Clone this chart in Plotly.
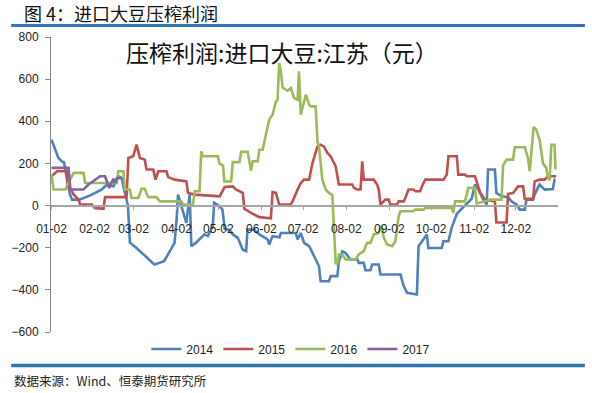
import plotly.graph_objects as go

# Day offsets counted from 01-02, values in 元
profit_2014 = [(0,313),(5,226),(7.5,210),(9,205),(13,60),(14.7,28),(20,28),(27.5,47),(36,76),(40,100),
    (44.5,91),(47,123),(49,137),(50.5,130),(51.7,91),(55,0),(56.4,-176),(61,-200),(74,-280),(81,-264),
    (88.5,-177),(90,-66),(91,52),(94.6,-27),(97,-82),(99.4,52),(100.6,-193),(104,-176),(110,-137),
    (112.5,-145),(116,-98),(117,13),(121,-3),(123,-20),(124.5,-110),(128,-115),(130.5,-137),(134,-153),
    (137.6,-210),(140,-216),(141,-114),(145.6,-114),(149.5,-137),(155.5,-161),(156.6,-185),(159,-145),
    (164,-150),(165,-130),(175.7,-130),(177,-161),(179.3,-130),(181.7,-177),(185.3,-193),(187.7,-224),
    (190,-256),(192.4,-288),(193.6,-359),(199.6,-359),(200.8,-335),(205.6,-335),(206.7,-264),(209.2,-217),
    (211.5,-225),(215,-256),(219.9,-256),(221,-272),(224.6,-272),(225.8,-307),(229.4,-307),(230.6,-280),
    (235.4,-280),(236.6,-327),(251,-327),(253.3,-382),(255.8,-414),(262.8,-422),(264,-193),(267.6,-161),
    (270,-137),(271,-201),(280.7,-201),(281.9,-169),(285.5,-169),(288,-102),(291.5,-40),(295,-15),
    (298.6,10),(302.2,32),(304.6,100),(307,76),(310.5,28),(313,5),(314,171),(318.9,171),(320,60),
    (323.7,44),(328.4,40),(330.8,20),(334.4,5),(336.8,-19),(340.4,-19),(341.6,28),(346.3,28),(347.5,52),
    (351,100),(353.5,84),(354.7,76),(360.6,79),(361.8,123),(362.5,125)]

profit_2015 = [(0,139),(4,163),(11,163),(11.5,91),(14.7,68),(16,52),(19.5,28),(20.6,5),(29,5),(31,-11),
    (37.4,-15),(38.5,40),(54,40),(55.3,226),(58.8,234),(61.2,289),(63.6,226),(67.1,218),(68.3,171),
    (73.2,171),(74.8,123),(76.8,163),(82.7,163),(83.9,135),(88.6,123),(97,115),(98.2,60),(103,52),
    (121,44),(124.5,88),(130.4,91),(132.8,75),(137.6,60),(138.7,-15),(143.5,-35),(149.5,-55),(157.8,-60),
    (159,64),(161.4,60),(163.8,5),(172,5),(173.4,20),(177,76),(179.3,107),(181.7,123),(185.3,123),
    (187.7,202),(191.3,281),(193.6,289),(196,280),(198.4,250),(200.8,234),(203.2,202),(204.4,186),
    (206.7,100),(216.3,100),(217.5,84),(219.9,76),(222.3,76),(223.5,210),(224.6,123),(231.8,123),
    (234.2,100),(235.4,76),(236.6,5),(240.2,28),(242.5,28),(243.7,5),(248.5,5),(249.7,20),(253.3,20),
    (254.5,36),(256.8,76),(260.4,76),(261.6,68),(265.2,68),(266.4,91),(268.8,123),(281.9,123),(284.3,147),
    (285.5,234),(291.5,234),(292.6,147),(297.4,147),(298.6,139),(304.6,139),(305.8,115),(308.2,64),
    (311.7,28),(318.9,20),(320,-80),(327.3,-80),(328.4,56),(332,60),(335.6,91),(339.2,91),(340.4,32),
    (346.4,32),(347.5,115),(351,123),(354.7,123),(357,139),(363,139)]

profit_2016 = [(0,150),(1.5,76),(10,76),(12.3,110),(16,155),(23,155),(24.2,107),(47,107),(48,163),
    (51.7,163),(52.8,76),(56.4,76),(57.6,36),(62.4,36),(64.8,80),(67,80),(69.6,40),(75.5,40),(77.9,20),
    (93.4,20),(94.6,5),(101.8,5),(103,68),(106.5,68),(107.7,257),(109,234),(119.7,234),(120.8,200),
    (123.3,190),(124.4,115),(129.2,115),(130.4,206),(135.2,206),(136.4,255),(141.1,255),(143.5,165),
    (144.7,210),(148.3,210),(149.5,265),(151.9,265),(154.3,340),(156.6,408),(159,431),(161.4,494),
    (162.6,502),(163.8,676),(165,637),(166.2,560),(169.8,545),(172.2,558),(174.5,510),(177,502),
    (178,637),(179.3,431),(182.9,526),(185.3,479),(186.5,471),(190,471),(191.3,305),(192.4,281),
    (194.8,123),(197.2,76),(199.6,60),(202,50),(204.4,-272),(205.6,-280),(206.7,-232),(209.2,-232),
    (211.5,-256),(218.7,-256),(221,-232),(224.6,-216),(227,-177),(229.4,-177),(231.8,-137),(235.4,-130),
    (236.6,-98),(237.8,-110),(239,-153),(241.4,-185),(245,-193),(247.3,-169),(249.7,-51),(250.9,-27),
    (260.4,-27),(261.6,-19),(267.6,-19),(268.8,-11),(288,-11),(289,-35),(290.3,20),(297.4,20),(298.6,52),
    (299.8,84),(304.6,84),(305.8,10),(311.7,20),(315.3,28),(323.7,28),(324.8,190),(327.3,218),(332,218),
    (333.2,277),(340.4,277),(342.7,226),(344,163),(345.2,257),(346.8,372),(348.7,360),(351,313),
    (353.5,200),(355.9,179),(357,131),(358.3,120),(359.5,289),(361.8,289),(362.5,171)]

profit_2017 = [(0,179),(12.3,179),(13.5,84),(14.7,76),(23,76),(26.6,100),(35,139),(38.5,139),(41.5,84),
    (44.5,127),(45.7,107),(47,131),(50.5,131)]

series_names = ["2014", "2015", "2016", "2017"]
series_colors = ["#4F81BD", "#C0504D", "#9BBB59", "#8064A2"]

tick_days = [0, 31, 59, 90, 120, 151, 181, 212, 243, 273, 304, 334]
tick_labels = ["01-02", "02-02", "03-02", "04-02", "05-02", "06-02",
               "07-02", "08-02", "09-02", "10-02", "11-02", "12-02"]

y_ticks = [-600, -400, -200, 0, 200, 400, 600, 800]

FONT = "Liberation Sans, Noto Sans CJK SC, sans-serif"
CJK = "Noto Sans CJK SC, sans-serif"

fig = go.Figure()
for name, color, data in zip(series_names, series_colors,
                             [profit_2014, profit_2015, profit_2016, profit_2017]):
    fig.add_trace(go.Scatter(
        x=[p[0] for p in data], y=[p[1] for p in data], name=name, mode="lines",
        line=dict(color=color, width=2.6), hoverinfo="skip"))

fig.update_layout(
    width=592, height=393,
    margin=dict(l=49, r=34, t=37, b=61),
    paper_bgcolor="white", plot_bgcolor="white",
    font=dict(family=FONT, size=12, color="#222222"),
    showlegend=True,
    legend=dict(orientation="h", x=0.473, y=-0.0576, xanchor="center", yanchor="middle",
                font=dict(family=FONT, size=12, color="#222222"), bgcolor="rgba(0,0,0,0)",
                itemwidth=30, tracegroupgap=0),
    xaxis=dict(range=[-0.35, 364.3], tickmode="array", tickvals=tick_days, ticktext=tick_labels,
               anchor="free", position=600/1400, showline=True, linecolor="#A6A6A6", linewidth=1.5,
               ticks="outside", ticklen=4, tickcolor="#A6A6A6", showgrid=False, zeroline=False,
               tickfont=dict(size=12, color="#222222"), ticklabelstandoff=8),
    yaxis=dict(range=[-600, 800], tickmode="array", tickvals=y_ticks, showline=True,
               linecolor="#868686", linewidth=1, ticks="outside", ticklen=5, tickcolor="#868686",
               showgrid=False, zeroline=False, tickfont=dict(size=12, color="#222222"),
               ticklabelstandoff=4),
)

fig.add_annotation(text="压榨利润:进口大豆:江苏（元）", xref="paper", yref="paper", x=0.456, y=0.949,
                   showarrow=False, xanchor="center", yanchor="middle",
                   font=dict(family=CJK, size=23, color="#111111"))
fig.add_annotation(text="图 4：进口大豆压榨利润", xref="paper", yref="paper", x=-0.057, y=1.0797,
                   showarrow=False, xanchor="left", yanchor="middle",
                   font=dict(family=CJK, size=18, color="#111111"))
fig.add_annotation(text="数据来源：Wind、恒泰期货研究所", xref="paper", yref="paper", x=-0.0766, y=-0.163,
                   showarrow=False, xanchor="left", yanchor="middle",
                   font=dict(family=CJK, size=12.5, color="#222222"))

fig.add_shape(type="line", xref="paper", yref="paper", x0=-0.0786, x1=1.053, y0=1.039, y1=1.039,
              line=dict(color="#2E75B6", width=3))
fig.add_shape(type="line", xref="paper", yref="paper", x0=-0.0786, x1=1.053, y0=-0.1136, y1=-0.1136,
              line=dict(color="#2E75B6", width=3.5))

fig.write_html("out.html", config={"displayModeBar": False},
               post_script="document.body.style.margin='0';document.body.style.padding='0';"
                           "document.documentElement.style.overflow='hidden';")
